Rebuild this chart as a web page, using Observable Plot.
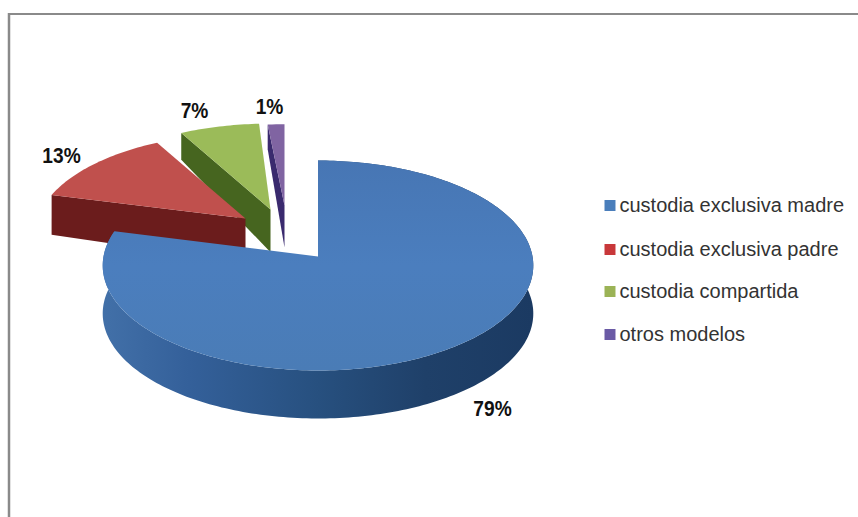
<!DOCTYPE html>
<html lang="es">
<head>
<meta charset="utf-8">
<title>Modelos de custodia</title>
<script src="https://cdn.jsdelivr.net/npm/d3@7"></script>
<script src="https://cdn.jsdelivr.net/npm/@observablehq/plot@0.6"></script>
<style>
  html, body { margin: 0; background: #fff; }
  svg { display: block; }
</style>
</head>
<body>
<div id="chart"></div>
<script>
// Shares of each custody arrangement, in percent.
const categories = ["custodia exclusiva madre", "custodia exclusiva padre", "custodia compartida", "otros modelos"];
const shares = [79, 13, 7, 1];
const percentLabels = ["79%", "13%", "7%", "1%"];

// Colours of each wedge: top face and cut face.
const topColors = ["#4a7dbb", "#c0504d", "#9bbb59", "#8064a2"];
const sideColors = ["url(#rimBlue)", "#6b1c1c", "#46651f", "#3a2a6e"];
const legendColors = ["#4a7ebb", "#c8383a", "#9bb356", "#6a5aa5"];

// Placement of the exploded wedges: apex, scale, perspective strength.
const RX = 214.5, RY = 104.2;
const wedgeLayout = [
  {ax: 317.5, ay: 256, scale: 1,    sx: 1,    k: 0.0857},
  {ax: 245,   ay: 218, scale: 0.94, sx: 1.03, k: 0.16},
  {ax: 270,   ay: 209, scale: 0.95, sx: 1.03, k: 0.16},
  {ax: 284,   ay: 205, scale: 0.89, sx: 1.6,  k: 0.16}
];
const labelAnchors = [[492, 408], [61, 155], [194, 110], [269, 106]];
const legendRows = [205, 249, 291, 334];

// Thickness of the disc shrinks towards the back of the scene.
const thickness = y => Math.min(48, 27 + (y - 134) * 0.21);

const total = d3.sum(shares);
const starts = d3.cumsum([0, ...shares]).map(v => v / total * 2 * Math.PI);

function project(layout, theta) {
  const u = Math.sin(theta) * layout.scale, v = Math.cos(theta) * layout.scale;
  const p = 1 / (1 + layout.k * v);
  return {x: layout.ax + RX * layout.sx * u * p, y: layout.ay - RY * v * p};
}

function arcPoints(i) {
  const a0 = starts[i], a1 = starts[i + 1];
  const n = Math.max(4, Math.ceil((a1 - a0) / 0.02));
  return d3.range(n + 1).map(j => project(wedgeLayout[i], a0 + (a1 - a0) * j / n));
}

const lower = pt => ({x: pt.x, y: pt.y + thickness(pt.y)});
const apex = i => ({x: wedgeLayout[i].ax, y: wedgeLayout[i].ay});
const polygon = (points, fill) => Plot.line(points, {x: "x", y: "y", fill, stroke: "none", curve: "linear"});

// Back wedges first, so nearer ones overlap them.
const wedgeMarks = [3, 2, 1, 0].flatMap(i => {
  const arc = arcPoints(i);
  const side = i === 0
    ? [...arc, ...arc.map(lower).reverse()]
    : [arc[0], apex(i), lower(apex(i)), lower(arc[0])];
  return [
    polygon(side, sideColors[i]),
    polygon([apex(i), ...arc], i === 0 ? "url(#topBlue)" : topColors[i])
  ];
});

// Gradients for the shaded rim and top of the large wedge.
const gradients = () => {
  const defs = d3.create("svg:defs");
  const add = (id, stops) => {
    const g = defs.append("linearGradient").attr("id", id);
    stops.forEach(([o, c]) => g.append("stop").attr("offset", o).attr("stop-color", c));
    return g;
  };
  add("rimBlue", [[0, "#4270a8"], [0.2, "#34609a"], [0.5, "#27507f"], [0.75, "#1f4069"], [1, "#1b3a62"]]);
  add("topBlue", [[0, "#4776b4"], [0.5, "#4b7ebe"], [1, "#4a7cb6"]])
    .attr("x1", 0).attr("x2", 0).attr("y1", 0).attr("y2", 1);
  return defs.node();
};

const labelRows = percentLabels.map((text, i) => ({text, x: labelAnchors[i][0], y: labelAnchors[i][1]}));
const legendData = categories.map((name, i) => ({name, color: legendColors[i], y: legendRows[i]}));

const chart = Plot.plot({
  width: 858,
  height: 517,
  margin: 0,
  x: {axis: null, domain: [0, 858], range: [0, 858]},
  y: {axis: null, domain: [0, 517], range: [0, 517]},
  style: {background: "#fff"},
  marks: [
    gradients,
    // Frame along the top and left edges.
    Plot.ruleY([13.5], {x1: 8, x2: 858, stroke: "#8a8a8a", strokeWidth: 2}),
    Plot.ruleX([8.5], {y1: 13, y2: 517, stroke: "#8a8a8a", strokeWidth: 2.5}),
    ...wedgeMarks,
    Plot.text(labelRows, {
      x: "x", y: "y", text: "text",
      fontFamily: "'Liberation Sans'",
      fontWeight: "bold", fontSize: 22, fill: "#111",
      className: "pct"
    }),
    Plot.dot(legendData, {
      x: () => 609.5, y: "y", symbol: "square", r: 6.2,
      fill: "color", stroke: "none"
    }),
    Plot.text(legendData, {
      x: () => 619, y: "y", text: "name", textAnchor: "start",
      fontFamily: "'Liberation Sans'", fontSize: 20, fill: "#333"
    })
  ]
});
document.getElementById("chart").append(chart);

// Condense the percentage labels horizontally.
chart.querySelectorAll(".pct text").forEach(node => {
  node.setAttribute("textLength", node.getComputedTextLength() * 0.87);
  node.setAttribute("lengthAdjust", "spacingAndGlyphs");
});
</script>
</body>
</html>
